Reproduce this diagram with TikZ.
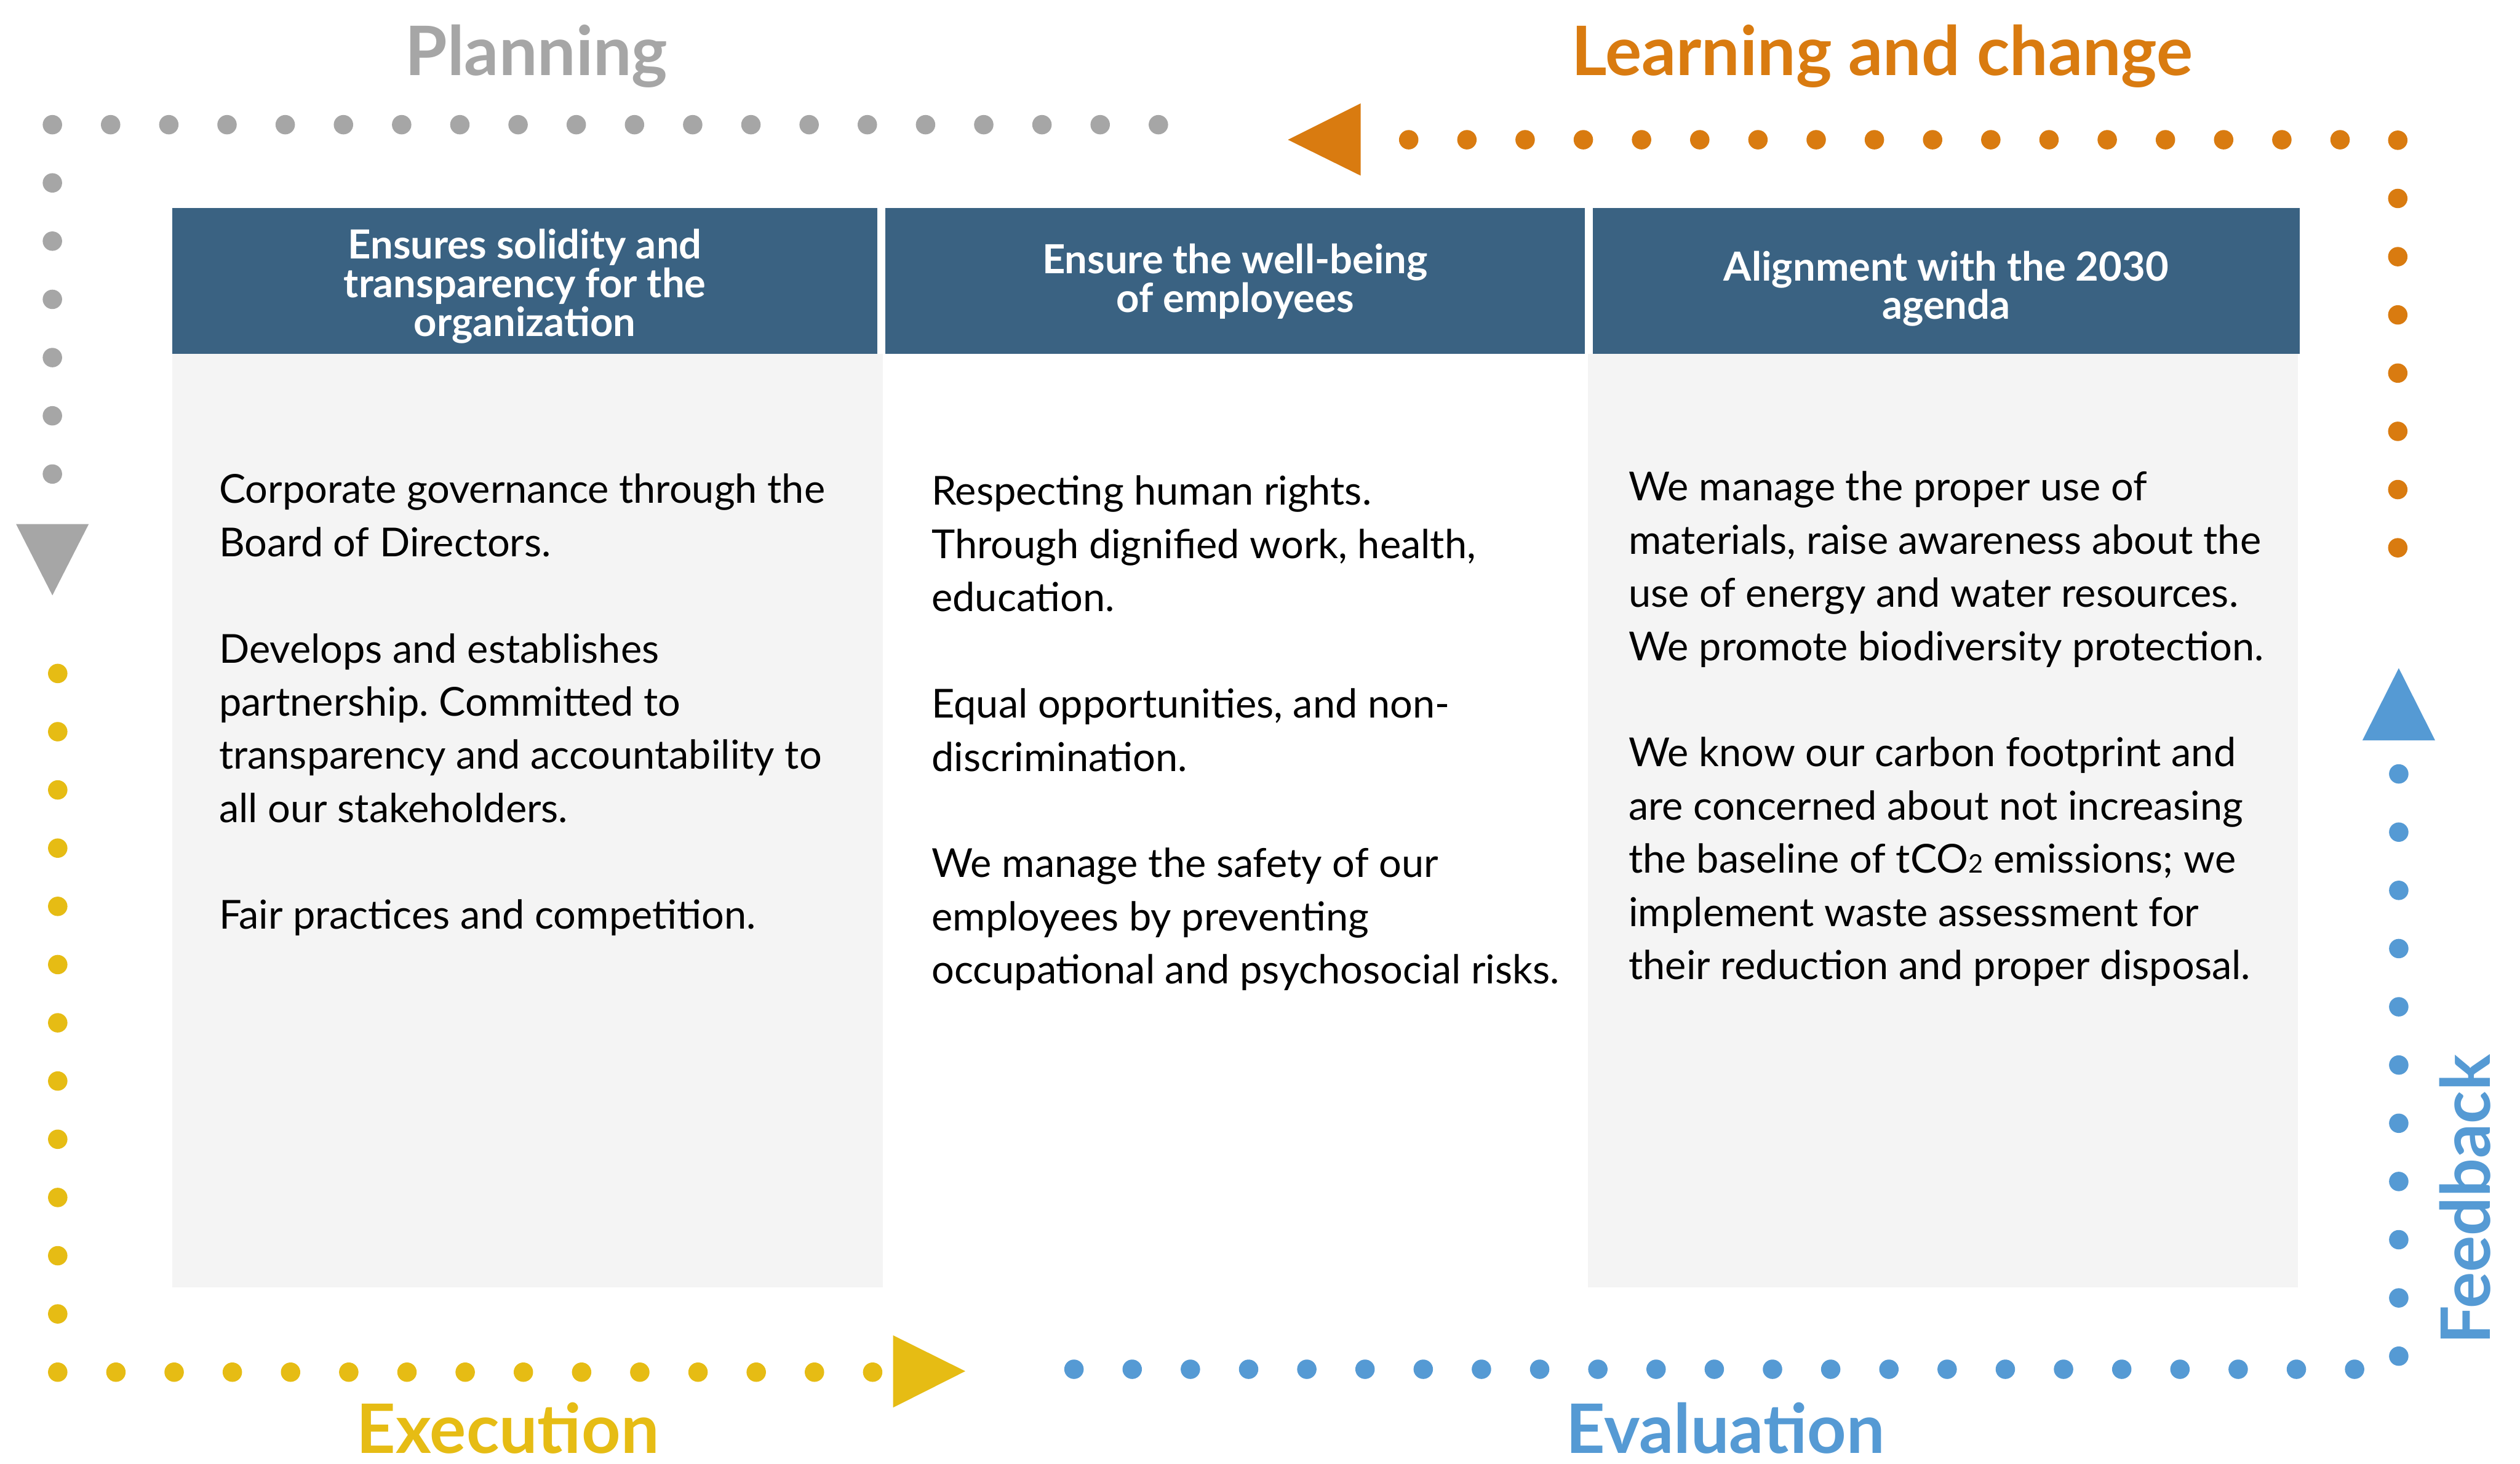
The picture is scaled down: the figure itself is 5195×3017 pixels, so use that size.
\documentclass[tikz,border=0pt]{standalone}
\usepackage{fontspec}
\setmainfont{Lato}
\frenchspacing

\definecolor{headblue}{HTML}{3A6282}
\definecolor{panelgray}{HTML}{F4F4F4}
\definecolor{plangray}{HTML}{A6A6A6}
\definecolor{execyellow}{HTML}{E6BC14}
\definecolor{evalblue}{HTML}{559AD4}
\definecolor{learnorange}{HTML}{D97B10}

\begin{document}
\begin{tikzpicture}[x=0.1mm,y=-0.1mm,
    dotrow/.style={line width=4mm, line cap=round, dash pattern=on 0pt off 12mm}]

        \useasboundingbox (0,0) rectangle (5195,3017);

        \fill[panelgray] (355,729) rectangle (1820,2653);
        \fill[panelgray] (3274,729) rectangle (4737,2653);

        \begin{scope}[every node/.style={fill=headblue, minimum height=30mm, inner sep=0pt}]
          \node[minimum width=145.4mm] (h1) at (1082,579) {};
          \node[minimum width=144.2mm] (h2) at (2546,579) {};
          \node[minimum width=145.7mm] (h3) at (4012,579) {};
        \end{scope}

        \begin{scope}[every node/.style={text=white, inner sep=0pt, align=center,
            font=\bfseries\fontsize{23.5}{22.6}\selectfont}]
          \node (h1text) at (1082,590) {Ensures solidity and\\transparency for the\\organization};
          \node (h2text) at (2546,580) {Ensure the well-being\\of employees};
          \node (h3text) at (4012,595) {Alignment with the 2030\\agenda};
        \end{scope}

        \begin{scope}[every node/.style={anchor=base west, inner sep=0pt,
            font=\fontsize{23.4}{31.2}\selectfont}]
          \node (t1) at (451,1037) {\parbox[t]{140mm}{\raggedright
            Corporate governance through the\\Board of Directors.\\[31.2pt]
            Develops and establishes\\partnership. Committed to\\transparency and accountability to\\all our stakeholders.\\[31.2pt]
            Fair practices and competition.}};
          \node (t2) at (1920,1041) {\parbox[t]{140mm}{\raggedright
            Respecting human rights.\\Through dignified work, health,\\education.\\[31.2pt]
            Equal opportunities, and non-\\discrimination.\\[31.2pt]
            We manage the safety of our\\employees by preventing\\occupational and psychosocial risks.}};
          \node (t3) at (3357,1032) {\parbox[t]{140mm}{\raggedright
            We manage the proper use of\\materials, raise awareness about the\\use of energy and water resources.\\
            We promote biodiversity protection.\\[31.2pt]
            We know our carbon footprint and\\are concerned about not increasing\\the baseline of tCO{\fontsize{15}{15}\selectfont 2} emissions; we\\
            implement waste assessment for\\their reduction and proper disposal.}};
        \end{scope}

        \coordinate (p1) at (2388,257);
        \coordinate (p2) at (108,257);
        \coordinate (p3) at (108,978);
        \coordinate (e1) at (119,1388);
        \coordinate (e2) at (119,2828);
        \coordinate (e3) at (1800,2828);
        \coordinate (v1) at (2214,2822);
        \coordinate (v2) at (4855,2822);
        \coordinate (f1) at (4945,2795);
        \coordinate (f2) at (4945,1594);
        \coordinate (l1) at (4943,1129);
        \coordinate (l2) at (4943,288);
        \coordinate (l3) at (2902,288);

        \draw[dotrow, plangray] (p1) -- (p2) -- (p3);
        \draw[dotrow, execyellow] (e1) -- (e2) -- (e3);
        \draw[dotrow, evalblue] (v1) -- (v2);
        \draw[dotrow, evalblue] (f1) -- (f2);
        \draw[dotrow, learnorange] (l1) -- (l2) -- (l3);

        \fill[plangray] (33,1080) -- (183,1080) -- (108,1227) -- cycle;
        \fill[execyellow] (1841,2752) -- (1841,2901) -- (1990,2826) -- cycle;
        \fill[evalblue] (4870,1526) -- (5020,1526) -- (4945,1377) -- cycle;
        \fill[learnorange] (2805,213) -- (2805,362) -- (2655,288) -- cycle;

        \begin{scope}[every node/.style={anchor=base, inner sep=0pt, font=\bfseries\fontsize{40}{40}\selectfont}]
          \node[text=plangray] (plan) at (1106,156) {Planning};
          \node[text=learnorange] (learn) at (3880,156) {Learning and change};
          \node[text=execyellow] (exec) at (1047,2995) {Execution};
          \node[text=evalblue] (eval) at (3557,2995) {Evaluation};
          \node[text=evalblue, rotate=90] (feed) at (5133,2472) {Feedback};
        \end{scope}

      \end{tikzpicture}
\end{document}
